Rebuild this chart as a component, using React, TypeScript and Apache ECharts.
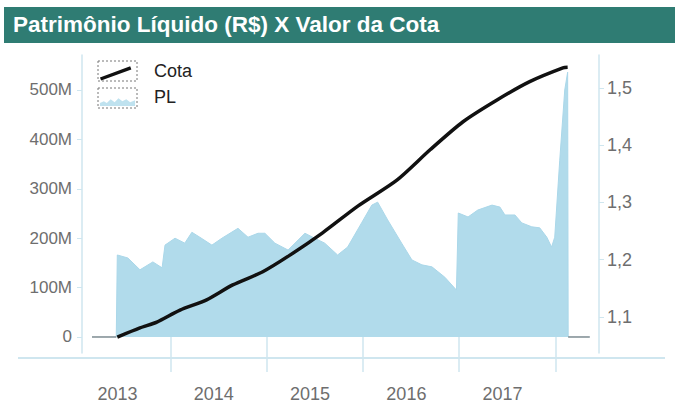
import React, { useEffect, useRef } from 'react';
import * as echarts from 'echarts';

// PL (Patrimônio Líquido), in millions of R$
const plDates = [
  '2013-03-10', '2013-06-10', '2013-06-14', '2013-07-24', '2013-09-08', '2013-10-27', '2013-12-01', '2013-12-12',
  '2014-01-19', '2014-02-25', '2014-03-24', '2014-04-23', '2014-06-08', '2014-07-16', '2014-09-15', '2014-10-23',
  '2014-11-30', '2014-12-26', '2015-02-02', '2015-03-24', '2015-05-27', '2015-07-03', '2015-08-10', '2015-09-28',
  '2015-11-05', '2015-12-28', '2016-02-05', '2016-02-27', '2016-04-05', '2016-05-28', '2016-07-06', '2016-08-13',
  '2016-09-20', '2016-11-08', '2016-12-22', '2016-12-29', '2017-02-04', '2017-03-13', '2017-05-06', '2017-06-05',
  '2017-06-24', '2017-08-01', '2017-08-27', '2017-10-04', '2017-11-03', '2017-11-30', '2017-12-18', '2017-12-30',
  '2018-01-18', '2018-02-06', '2018-02-17', '2018-02-19', '2018-05-12',
];
const plValues = [
  0, 0, 166, 160, 136, 152, 140, 186,
  200, 190, 212, 202, 186, 200, 220, 202,
  210, 210, 190, 176, 210, 200, 190, 166,
  182, 231, 267, 273, 237, 190, 156, 146,
  142, 121, 95, 251, 243, 257, 267, 263,
  247, 247, 231, 223, 221, 202, 182, 202,
  358, 500, 536, 0, 0,
];

// Valor da Cota
const cotaDates = [
  '2013-06-14', '2013-09-08', '2013-11-11', '2014-02-07', '2014-05-19', '2014-08-26', '2014-12-18', '2015-03-31',
  '2015-08-02', '2015-12-15', '2016-05-10', '2016-09-13', '2017-01-16', '2017-05-25', '2017-09-26', '2018-01-30',
  '2018-02-17',
];
const cotaValues = [
  1.065, 1.081, 1.091, 1.112, 1.130, 1.156, 1.179, 1.208,
  1.247, 1.294, 1.339, 1.392, 1.441, 1.479, 1.511, 1.535,
  1.536,
];

const leftTicks = [0, 100, 200, 300, 400, 500];
const rightTicks = [1.1, 1.2, 1.3, 1.4, 1.5];
const yearLabelDates = ['2013-06-15', '2014-06-15', '2015-06-15', '2016-06-15', '2017-06-15'];
const yearBoundaries = ['2014-01-01', '2015-01-01', '2016-01-01', '2017-01-01', '2018-01-01'];

const TITLE = 'Patrimônio Líquido (R$) X Valor da Cota';
const FONT = 'Liberation Sans, Arial, sans-serif';
const AXIS_COLOR = '#cfe6ef';
const LABEL_COLOR = '#6e6e6e';

const T = (s: string) => new Date(s + 'T00:00:00').getTime();

const cotaIcon =
  'path://M0 0L0.1 0L0.1 0.1ZM40 20L39.9 20L39.9 19.9ZM2 17L33 5.5L34.2 8.8L3.2 20Z';
const plIcon =
  'path://M0 0L0.1 0L0.1 0.1ZM40 20L39.9 20L39.9 19.9ZM2 19L2 16L6 14L9 16L13 12L17 15L21 11L25 14L29 12L33 15L38 13L38 19Z';

export default function App() {
  const ref = useRef<HTMLDivElement>(null);

  useEffect(() => {
    const chart = echarts.init(ref.current!, null, { renderer: 'svg' });

    const plData = plDates.map((d, i) => [T(d), plValues[i]]);
    const plZero = plDates.map((d, i) => [T(d), plValues[i] === 0 ? 0 : null]);
    const cotaData = cotaDates.map((d, i) => [T(d), cotaValues[i]]);

    const option: any = {
      animation: false,
      backgroundColor: '#ffffff',
      textStyle: { fontFamily: FONT },
      title: {
        text: TITLE,
        left: 13,
        top: 13,
        padding: 0,
        textStyle: { color: '#ffffff', fontSize: 22.5, fontWeight: 'bold', fontFamily: FONT },
        z: 10,
      },
      graphic: [
        {
          type: 'rect',
          shape: { x: 4, y: 7, width: 671, height: 36 },
          style: { fill: '#2f7c73' },
          z: -1,
        },
        {
          type: 'line',
          shape: { x1: 18, y1: 358, x2: 665, y2: 358 },
          style: { stroke: AXIS_COLOR, lineWidth: 2 },
        },
        {
          type: 'rect',
          shape: { x: 98, y: 61, width: 39, height: 20 },
          style: { fill: 'none', stroke: '#777', lineWidth: 1, lineDash: [2, 2] },
        },
        {
          type: 'rect',
          shape: { x: 98, y: 88, width: 39, height: 20 },
          style: { fill: 'none', stroke: '#777', lineWidth: 1, lineDash: [2, 2] },
        },
      ],
      legend: {
        orient: 'vertical',
        left: 98,
        top: 61,
        padding: 0,
        itemWidth: 39,
        itemHeight: 20,
        itemGap: 7,
        textStyle: { fontSize: 18, color: '#222', fontFamily: FONT, padding: [0, 0, 0, 12] },
        data: [
          { name: 'Cota', icon: cotaIcon, itemStyle: { color: '#111111', borderWidth: 0 } },
          { name: 'PL', icon: plIcon, itemStyle: { color: '#bfe2ef', borderWidth: 0 } },
        ],
      },
      grid: { left: 82, right: 79, top: 55, bottom: 63 },
      xAxis: {
        type: 'value',
        min: T('2013-01-31'),
        max: T('2018-06-16'),
        offset: 12,
        axisLine: { show: false },
        axisTick: {
          show: true,
          customValues: yearBoundaries.map(T),
          length: 35,
          lineStyle: { color: AXIS_COLOR, width: 1.5 },
        },
        axisLabel: {
          customValues: yearLabelDates.map(T),
          formatter: (v: number) => String(new Date(v).getFullYear()),
          margin: 20,
          fontSize: 18,
          color: LABEL_COLOR,
          fontFamily: FONT,
        },
        splitLine: { show: false },
      },
      yAxis: [
        {
          type: 'value',
          position: 'left',
          min: -32.4,
          max: 570.85,
          axisLine: { show: true, lineStyle: { color: AXIS_COLOR, width: 1.5 } },
          axisTick: { show: true, customValues: leftTicks, length: 5, lineStyle: { color: AXIS_COLOR } },
          axisLabel: {
            customValues: leftTicks,
            formatter: (v: number) => (v === 0 ? '0' : v + 'M'),
            margin: 10,
            fontSize: 17,
            color: LABEL_COLOR,
            fontFamily: FONT,
          },
          splitLine: { show: false },
        },
        {
          type: 'value',
          position: 'right',
          min: 1.0371,
          max: 1.5576,
          axisLine: { show: true, lineStyle: { color: AXIS_COLOR, width: 1.5 } },
          axisTick: { show: true, customValues: rightTicks, length: 5, lineStyle: { color: AXIS_COLOR } },
          axisLabel: {
            customValues: rightTicks,
            formatter: (v: number) => v.toFixed(1).replace('.', ','),
            margin: 8,
            fontSize: 18,
            color: LABEL_COLOR,
            fontFamily: FONT,
          },
          splitLine: { show: false },
        },
      ],
      series: [
        {
          name: 'PL',
          type: 'line',
          yAxisIndex: 0,
          data: plData,
          symbol: 'none',
          lineStyle: { color: '#aad7e9', width: 1 },
          itemStyle: { color: '#bfe2ef' },
          areaStyle: { color: '#b1dbeb', opacity: 1 },
          z: 1,
        },
        {
          name: 'PL-zero',
          type: 'line',
          yAxisIndex: 0,
          data: plZero,
          symbol: 'none',
          connectNulls: false,
          lineStyle: { color: '#666666', width: 1 },
          silent: true,
          z: 2,
        },
        {
          name: 'Cota',
          type: 'line',
          yAxisIndex: 1,
          data: cotaData,
          symbol: 'none',
          smooth: 0.25,
          lineStyle: { color: '#111111', width: 3.5 },
          itemStyle: { color: '#111111' },
          z: 3,
        },
      ],
    };

    chart.setOption(option);
    return () => chart.dispose();
  }, []);

  return (
    <div
      ref={ref}
      style={{ position: 'fixed', left: 0, top: 0, width: 678, height: 416, background: '#ffffff' }}
    />
  );
}
